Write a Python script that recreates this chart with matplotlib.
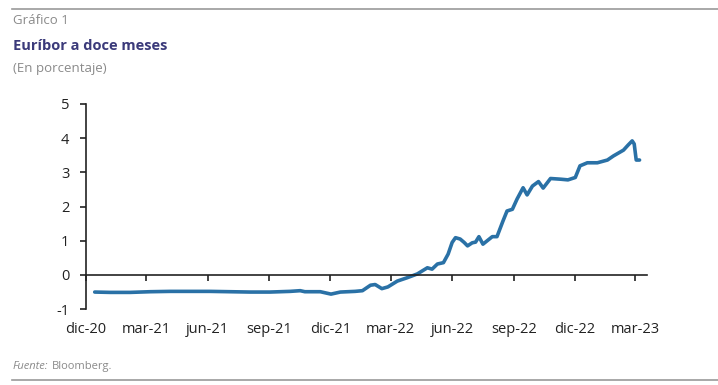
import matplotlib
matplotlib.use("Agg")
import matplotlib.pyplot as plt
from matplotlib.lines import Line2D
import pandas as pd

# Euríbor a doce meses (%)
fechas = [
    "2020-12-14", "2021-01-06", "2021-02-05", "2021-03-07", "2021-04-06",
    "2021-05-05", "2021-06-04", "2021-07-04", "2021-08-03", "2021-09-02",
    "2021-10-02", "2021-10-17", "2021-10-24", "2021-11-16", "2021-12-02",
    "2021-12-16", "2022-01-07", "2022-01-18", "2022-01-30", "2022-02-06",
    "2022-02-16", "2022-02-25", "2022-03-11", "2022-03-26", "2022-04-10",
    "2022-04-25", "2022-05-02", "2022-05-10", "2022-05-19", "2022-05-26",
    "2022-06-01", "2022-06-06", "2022-06-13", "2022-06-19", "2022-06-24",
    "2022-07-01", "2022-07-06", "2022-07-11", "2022-07-17", "2022-07-31",
    "2022-08-07", "2022-08-16", "2022-08-22", "2022-08-30", "2022-09-06",
    "2022-09-15", "2022-09-21", "2022-09-29", "2022-10-08", "2022-10-15",
    "2022-10-26", "2022-11-10", "2022-11-21", "2022-12-02", "2022-12-09",
    "2022-12-20", "2023-01-04", "2023-01-19", "2023-01-28", "2023-02-12",
    "2023-02-19", "2023-02-25", "2023-02-28", "2023-03-03", "2023-03-08",
]
euribor = [
    -0.50, -0.51, -0.51, -0.49, -0.48,
    -0.48, -0.48, -0.49, -0.50, -0.50,
    -0.48, -0.46, -0.49, -0.49, -0.56,
    -0.50, -0.48, -0.46, -0.30, -0.28,
    -0.40, -0.35, -0.18, -0.08, 0.03,
    0.21, 0.17, 0.32, 0.36, 0.61,
    0.95, 1.09, 1.05, 0.95, 0.85,
    0.94, 0.96, 1.12, 0.90, 1.12,
    1.12, 1.58, 1.87, 1.92, 2.22,
    2.55, 2.34, 2.60, 2.73, 2.54,
    2.82, 2.80, 2.78, 2.85, 3.19,
    3.28, 3.28, 3.36, 3.48, 3.65,
    3.80, 3.92, 3.83, 3.36, 3.36,
]
etiquetas_x = ["dic-20", "mar-21", "jun-21", "sep-21", "dic-21",
               "mar-22", "jun-22", "sep-22", "dic-22", "mar-23"]
ticks_x = pd.date_range("2020-12-01", "2023-03-01", freq="3MS")

plt.rcParams['font.family'] = ['Open Sans', 'DejaVu Sans']

fig = plt.figure(figsize=(7.18, 3.85), dpi=100)
ax = fig.add_axes([0.1198, 0.197, 0.7812, 0.533])

ax.plot(pd.to_datetime(fechas), euribor, color='#2a71a6', lw=2.6,
        solid_capstyle='round', solid_joinstyle='round')

ax.set_ylim(-1, 5)
ax.set_yticks(range(-1, 6))
ax.set_yticklabels(["-1", "0", "1", "2", "3", "4", "5"])
ax.set_xlim(pd.Timestamp("2020-12-01"), pd.Timestamp("2023-03-19"))
ax.set_xticks(ticks_x)
ax.set_xticklabels(etiquetas_x)

ax.spines['top'].set_visible(False)
ax.spines['right'].set_visible(False)
ax.spines['bottom'].set_position(('data', 0))
for s in ['left', 'bottom']:
    ax.spines[s].set_color('#222222')
    ax.spines[s].set_linewidth(1.2)

ax.tick_params(axis='y', direction='out', length=4, width=1.2,
               colors='#222222', labelsize=10.5, pad=8)
ax.tick_params(axis='x', direction='out', length=4, width=1.2,
               colors='#222222', labelsize=10.5, pad=30)

# textos de cabecera y pie
fig.text(0.018, 0.948, "Gráfico 1", fontsize=9.5, color='#8a8a8a', va='center')
fig.text(0.018, 0.88, "Euríbor a doce meses", fontsize=10.5, color='#3b3a7a',
         fontweight='bold', va='center',
         family=['Liberation Sans Narrow', 'Open Sans', 'DejaVu Sans'])
fig.text(0.018, 0.823, "(En porcentaje)", fontsize=9.5, color='#8a8a8a', va='center')
fig.text(0.018, 0.047, "Fuente:", fontsize=8, color='#8a8a8a', va='center',
         style='italic')
fig.text(0.072, 0.047, "Bloomberg.", fontsize=8, color='#8a8a8a', va='center')

fig.add_artist(Line2D([0.017, 1.0], [0.977, 0.977], color='#9a9a9a', lw=1.2))
fig.add_artist(Line2D([0.017, 1.0], [0.013, 0.013], color='#9a9a9a', lw=1.2))

fig.savefig("out.png", dpi=100)
